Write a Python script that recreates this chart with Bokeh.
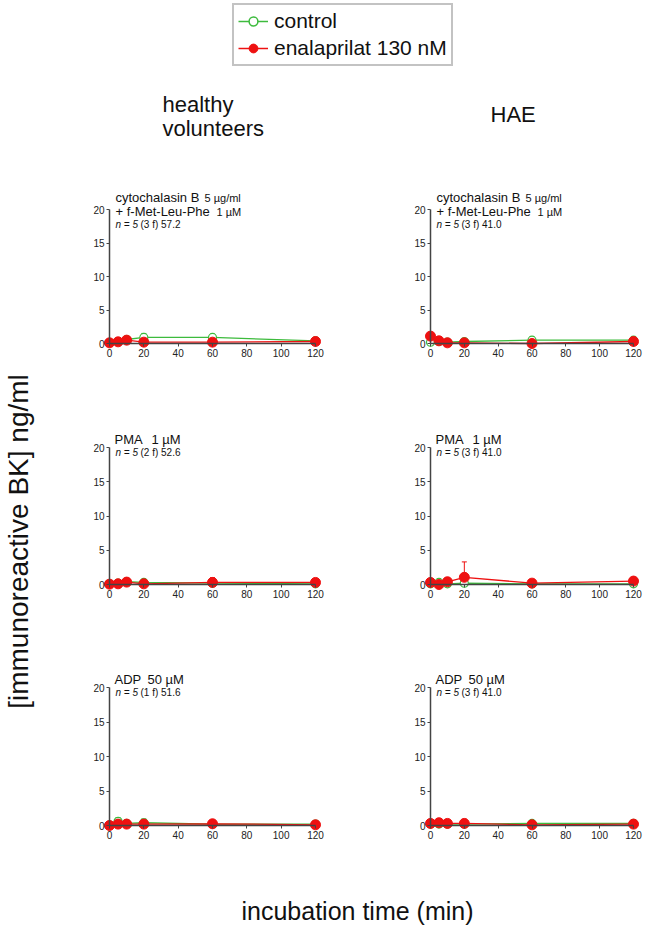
from bokeh.plotting import figure
from bokeh.layouts import column, row
from bokeh.models import Range1d, Label, Legend, LegendItem, FixedTicker
from bokeh.embed import file_html
from bokeh.resources import INLINE
from bokeh.core.properties import value
import math

FONT = "Liberation Sans"
GREEN = "#3dbb3d"
RED = "#ee1111"
AXIS = "#444444"

time_min = [0, 5, 10, 20, 60, 120]
x_ticks = [0, 20, 40, 60, 80, 100, 120]
y_ticks = [0, 5, 10, 15, 20]

legend_labels = ["control", "enalaprilat 130 nM"]
column_titles = ["healthy", "volunteers", "HAE"]
y_label = "[immunoreactive BK] ng/ml"
x_label = "incubation time (min)"

# healthy volunteers, cytochalasin B + fMLP
hv_cyto_ctrl = [0.1, 0.3, 0.6, 0.9, 0.9, 0.4]
hv_cyto_ctrl_err = [0.1, 0.1, 0.2, 0.6, 0.5, 0.2]
hv_cyto_enal = [0.1, 0.25, 0.5, 0.2, 0.2, 0.3]
hv_cyto_enal_err = [0.05, 0.1, 0.2, 0.1, 0.1, 0.2]
# HAE, cytochalasin B + fMLP
hae_cyto_ctrl = [0.2, 0.3, 0.2, 0.3, 0.5, 0.5]
hae_cyto_ctrl_err = [0.1, 0.1, 0.1, 0.4, 0.5, 0.5]
hae_cyto_enal = [1.1, 0.4, 0.1, 0.1, 0.0, 0.3]
hae_cyto_enal_err = [0.6, 0.2, 0.1, 0.1, 0.05, 0.2]
# healthy volunteers, PMA
hv_pma_ctrl = [0.1, 0.2, 0.4, 0.3, 0.2, 0.1]
hv_pma_ctrl_err = [0.05, 0.4, 0.3, 0.2, 0.1, 0.1]
hv_pma_enal = [0.05, 0.1, 0.35, 0.1, 0.3, 0.3]
hv_pma_enal_err = [0.05, 0.1, 0.45, 0.1, 0.7, 0.3]
# HAE, PMA
hae_pma_ctrl = [0.1, 0.3, 0.1, 0.2, 0.1, 0.1]
hae_pma_ctrl_err = [0.05, 0.1, 0.05, 0.1, 0.1, 0.1]
hae_pma_enal = [0.3, 0.0, 0.4, 1.05, 0.2, 0.5]
hae_pma_enal_err = [0.1, 0.05, 0.55, 2.25, 0.1, 0.5]
# healthy volunteers, ADP
hv_adp_ctrl = [0.05, 0.6, 0.3, 0.4, 0.2, 0.2]
hv_adp_ctrl_err = [0.05, 0.55, 0.2, 0.55, 0.1, 0.1]
hv_adp_enal = [0.0, 0.2, 0.2, 0.2, 0.25, 0.1]
hv_adp_enal_err = [0.05, 0.1, 0.1, 0.1, 0.1, 0.1]
# HAE, ADP
hae_adp_ctrl = [0.2, 0.2, 0.2, 0.2, 0.3, 0.3]
hae_adp_ctrl_err = [0.1, 0.1, 0.1, 0.1, 0.4, 0.5]
hae_adp_enal = [0.3, 0.4, 0.3, 0.3, 0.1, 0.2]
hae_adp_enal_err = [0.2, 0.4, 0.4, 0.6, 0.3, 0.3]


def panel(ctrl, ctrl_err, enal, enal_err, col, rw, title_parts):
    # col: horizontal geometry, rw: vertical geometry (pixels)
    width, mb_left, mb_right, pad_l, pad_r = col
    height, pad_t, plot_h, pad_b = rw
    frame_w = width - mb_left - mb_right
    plot_w = frame_w - pad_l - pad_r
    kx = plot_w / 120.0
    ky = plot_h / 20.0
    frame_h = pad_t + plot_h + pad_b
    p = figure(width=width, height=height,
               x_range=Range1d(-pad_l / kx, 120 + pad_r / kx),
               y_range=Range1d(-pad_b / ky, 20 + pad_t / ky),
               min_border_left=mb_left, min_border_right=mb_right,
               min_border_top=0, min_border_bottom=height - frame_h,
               output_backend="svg", toolbar_location=None)
    p.outline_line_color = None
    p.grid.visible = False
    p.xaxis.fixed_location = 0
    p.yaxis.fixed_location = 0
    p.xaxis.bounds = (0, 120)
    p.yaxis.bounds = (0, 20)
    p.xaxis.ticker = FixedTicker(ticks=x_ticks)
    p.yaxis.ticker = FixedTicker(ticks=y_ticks)
    for ax in (p.xaxis, p.yaxis):
        ax.minor_tick_line_color = None
        ax.major_tick_in = 0
        ax.major_tick_out = 3
        ax.axis_line_color = AXIS
        ax.axis_line_width = 1.5
        ax.major_tick_line_color = AXIS
        ax.major_label_text_font = FONT
        ax.major_label_text_font_size = "10px"
        ax.major_label_text_color = "#222222"
        ax.major_label_standoff = 2

    for vals, errs, colr, fill in ((ctrl, ctrl_err, GREEN, "white"),
                                   (enal, enal_err, RED, RED)):
        tops = [v + e for v, e in zip(vals, errs)]
        p.segment(x0=time_min, y0=vals, x1=time_min, y1=tops,
                  line_color=colr, line_width=1)
        p.scatter(time_min, tops, marker="dash", size=5,
                  line_color=colr, line_width=1)
        p.line(time_min, vals, line_color=colr, line_width=1.3)
        if fill == "white":
            p.scatter(time_min, vals, marker="circle", size=8,
                      fill_color="white", line_color=colr, line_width=1.2)
        else:
            p.scatter(time_min, vals, marker="circle", size=10,
                      fill_color=colr, line_color=colr, line_width=1)

    for text, xo, yo, size, style in title_parts:
        p.add_layout(Label(x=0, y=20, x_offset=xo, y_offset=yo, text=text,
                           text_font=FONT, text_font_size=size,
                           text_font_style=style, text_color="#111111",
                           text_baseline="alphabetic", text_align="left"))
    return p


def cyto_titles(nline):
    return [("cytochalasin B", 6, 12, "13px", "normal"),
            ("5 µg/ml", 95, 12, "11px", "normal"),
            ("+ f-Met-Leu-Phe", 6, -2, "13px", "normal"),
            ("1 µM", 107, -2, "11px", "normal"),
            ("n = 5", 6, -15, "10px", "italic"),
            (nline, 31, -15, "10px", "normal")]


def simple_titles(agent, conc, conc_off, nline):
    return [(agent, 5, 8, "13px", "normal"),
            (conc, conc_off, 8, "13px", "normal"),
            ("n = 5", 6, -5, "10px", "italic"),
            (nline, 31, -5, "10px", "normal")]


# (width, min_border_left, min_border_right, pad_left, pad_right)
LEFT = (280, 31, 11, 20, 12)
RIGHT = (310, 72, 3, 20, 12)
# (height, pad_top, plot_height, pad_bottom)
ROW1 = (240, 31, 134, 20)
ROW2 = (240, 29, 137, 20)
ROW3 = (240, 29, 138, 20)

p11 = panel(hv_cyto_ctrl, hv_cyto_ctrl_err, hv_cyto_enal, hv_cyto_enal_err,
            LEFT, ROW1, cyto_titles("(3 f) 57.2"))
p12 = panel(hae_cyto_ctrl, hae_cyto_ctrl_err, hae_cyto_enal, hae_cyto_enal_err,
            RIGHT, ROW1, cyto_titles("(3 f) 41.0"))
p21 = panel(hv_pma_ctrl, hv_pma_ctrl_err, hv_pma_enal, hv_pma_enal_err,
            LEFT, ROW2, simple_titles("PMA", "1 µM", 42, "(2 f) 52.6"))
p22 = panel(hae_pma_ctrl, hae_pma_ctrl_err, hae_pma_enal, hae_pma_enal_err,
            RIGHT, ROW2, simple_titles("PMA", "1 µM", 42, "(3 f) 41.0"))
p31 = panel(hv_adp_ctrl, hv_adp_ctrl_err, hv_adp_enal, hv_adp_enal_err,
            LEFT, ROW3, simple_titles("ADP", "50 µM", 38, "(1 f) 51.6"))
p32 = panel(hae_adp_ctrl, hae_adp_ctrl_err, hae_adp_enal, hae_adp_enal_err,
            RIGHT, ROW3, simple_titles("ADP", "50 µM", 38, "(3 f) 41.0"))


def blank(width, height):
    f = figure(width=width, height=height, x_range=Range1d(0, width),
               y_range=Range1d(height, 0), min_border=0,
               x_axis_type=None, y_axis_type=None,
               output_backend="svg", toolbar_location=None)
    f.outline_line_color = None
    f.grid.visible = False
    return f


HDR_H = 178
hdr = blank(648, HDR_H)
gl = hdr.line(x=[-1000, -999], y=[-1000, -1000], line_color=GREEN, line_width=1.5)
gc = hdr.scatter(x=[-1000], y=[-1000], marker="circle", size=9, fill_color="white",
                 line_color=GREEN, line_width=1.5)
rl = hdr.line(x=[-1000, -999], y=[-1000, -1000], line_color=RED, line_width=1.5)
rc = hdr.scatter(x=[-1000], y=[-1000], marker="circle", size=10, fill_color=RED,
                 line_color=RED)
legend = Legend(items=[LegendItem(label=legend_labels[0], renderers=[gl, gc]),
                       LegendItem(label=legend_labels[1], renderers=[rl, rc])],
                location=(232, HDR_H - 66), orientation="vertical",
                border_line_color="#888888", border_line_width=2,
                padding=4, spacing=3, margin=0, label_standoff=6,
                glyph_width=30, glyph_height=22,
                label_text_font=FONT, label_text_font_size="21px",
                label_text_color="#111111", background_fill_color="white")
hdr.add_layout(legend)
hdr.text(x=[162, 162], y=[104, 128], text=column_titles[:2],
         text_font=value(FONT), text_font_size="22px", text_color="#111111",
         text_align="left", text_baseline="alphabetic")
hdr.text(x=[490], y=[114], text=[column_titles[2]],
         text_font=value(FONT), text_font_size="22px", text_color="#111111",
         text_align="left", text_baseline="alphabetic")

ylab = blank(58, 720)
ylab.text(x=[18], y=[363], text=[y_label], angle=math.pi / 2,
          text_font=value(FONT), text_font_size="28px", text_color="#111111",
          text_align="center", text_baseline="middle")

foot = blank(648, 45)
foot.text(x=[357], y=[12], text=[x_label],
          text_font=value(FONT), text_font_size="25px", text_color="#111111",
          text_align="center", text_baseline="middle")

panels = column(row(p11, p12), row(p21, p22), row(p31, p32))
layout = column(hdr, row(ylab, panels), foot)

open("out.html", "w").write(file_html(layout, INLINE))
